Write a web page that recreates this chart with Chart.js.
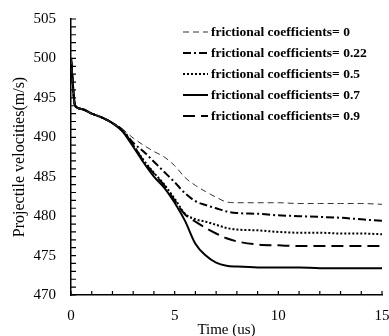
<!DOCTYPE html>
<html>
<head>
<meta charset="utf-8">
<script src="https://cdn.jsdelivr.net/npm/chart.js@4.4.1/dist/chart.umd.min.js"></script>
<style>
  html, body { margin: 0; padding: 0; background: #fff; }
  #wrap { width: 389px; height: 336px; }
</style>
</head>
<body>
<div id="wrap"><canvas id="velChart" width="389" height="336"></canvas></div>
<script>
// time (us)
const times = [0, 0.2, 0.5, 1, 1.5, 2, 2.5, 3, 3.5, 4, 4.5, 5, 5.5, 6, 6.5, 7, 7.5, 8, 9, 10, 11, 12, 13, 14, 15];

// projectile velocity (m/s) per frictional coefficient
const mu0   = [500, 494, 493.6, 493.0, 492.5, 491.8, 491.0, 489.9, 489.0, 488.2, 487.5, 486.4, 484.9, 483.9, 483.1, 482.4, 481.8, 481.7, 481.7, 481.7, 481.6, 481.6, 481.6, 481.6, 481.5];
const mu022 = [500, 494, 493.6, 493.0, 492.5, 491.8, 490.9, 489.3, 488.2, 486.9, 485.6, 484.3, 482.9, 481.9, 481.4, 481.0, 480.6, 480.4, 480.3, 480.1, 480.0, 479.9, 479.8, 479.6, 479.4];
const mu05  = [500, 494, 493.6, 493.0, 492.5, 491.8, 490.8, 489.0, 487.1, 485.5, 484.0, 482.2, 480.3, 479.6, 479.3, 478.9, 478.5, 478.3, 478.2, 478.0, 477.9, 477.9, 477.8, 477.8, 477.7];
const mu07  = [500, 494, 493.6, 493.0, 492.5, 491.8, 490.7, 488.8, 486.8, 485.0, 483.6, 481.7, 479.4, 476.5, 475.0, 474.1, 473.7, 473.6, 473.5, 473.5, 473.5, 473.4, 473.4, 473.4, 473.4];
const mu09  = [500, 494, 493.6, 493.0, 492.5, 491.8, 490.8, 489.0, 487.0, 485.4, 483.9, 482.0, 480.2, 479.3, 478.5, 477.8, 477.2, 476.8, 476.4, 476.3, 476.2, 476.2, 476.2, 476.2, 476.2];

const legendLabels = ["frictional coefficients= 0", "frictional coefficients= 0.22", "frictional coefficients= 0.5", "frictional coefficients= 0.7", "frictional coefficients= 0.9"];

const serif = "'Liberation Serif', 'DejaVu Serif', serif";

function pts(vals) {
    return times.map((t, i) => ({ x: t, y: vals[i] }));
}

function makeSet(label, vals, dash, width, color) {
    return {
        label: label,
        data: pts(vals),
        borderColor: color,
        borderWidth: width,
        borderDash: dash,
        pointRadius: 0,
        fill: false,
        cubicInterpolationMode: 'monotone'
    };
}

// little ticks pointing into the plot, plus the legend box
const innerTicks = {
    id: 'innerTicks',
    afterDraw(chart) {
        const ctx = chart.ctx;
        const xs = chart.scales.x;
        const ys = chart.scales.y;
        const area = chart.chartArea;
        ctx.save();
        ctx.strokeStyle = '#000';
        ctx.lineWidth = 1.2;
        ctx.beginPath();
        xs.ticks.forEach(t => {
            const px = xs.getPixelForValue(t.value);
            ctx.moveTo(px, area.bottom);
            ctx.lineTo(px, area.bottom - 4);
        });
        ys.ticks.forEach(t => {
            const py = ys.getPixelForValue(t.value);
            ctx.moveTo(area.left, py);
            ctx.lineTo(area.left + 5, py);
        });
        ctx.stroke();

        // legend
        ctx.font = "bold 13.5px " + serif;
        ctx.textBaseline = 'middle';
        ctx.fillStyle = '#000';
        chart.data.datasets.forEach((ds, i) => {
            const y = area.top + 13 + i * 21;
            ctx.beginPath();
            ctx.setLineDash(ds.borderDash);
            ctx.lineWidth = ds.borderWidth;
            ctx.strokeStyle = ds.borderColor;
            ctx.moveTo(183, y);
            ctx.lineTo(208, y);
            ctx.stroke();
            ctx.setLineDash([]);
            ctx.fillText(legendLabels[i], 211, y + 1);
        });
        ctx.restore();
    }
};

new Chart(document.getElementById("velChart"), {
    type: 'line',
    data: {
        datasets: [
            makeSet(legendLabels[0], mu0, [6, 4], 1, '#333'),
            makeSet(legendLabels[1], mu022, [8, 3, 2, 3], 2, '#000'),
            makeSet(legendLabels[2], mu05, [2, 2], 2, '#000'),
            makeSet(legendLabels[3], mu07, [], 2, '#000'),
            makeSet(legendLabels[4], mu09, [12, 6], 2, '#000')
        ]
    },
    options: {
        responsive: false,
        animation: false,
        layout: { padding: { top: 19, right: 0, left: 10, bottom: 0 } },
        plugins: {
            legend: { display: false },
            tooltip: { enabled: false }
        },
        scales: {
            x: {
                type: 'linear',
                min: 0,
                max: 15,
                grid: { display: false },
                border: { display: true, color: '#000', width: 1.5 },
                ticks: {
                    stepSize: 1,
                    autoSkip: false,
                    maxRotation: 0,
                    padding: 4,
                    color: '#000',
                    font: { family: serif, size: 15 },
                    callback: v => (v % 5 === 0 ? v : '')
                },
                title: {
                    display: true,
                    text: 'Time (us)',
                    color: '#000',
                    font: { family: serif, size: 15 },
                    padding: { top: 0, bottom: -3 }
                },
                afterFit: s => {
                    s.height = 41;
                    s.paddingRight = 7;
                    s.paddingLeft = 0;
                }
            },
            y: {
                min: 470,
                max: 505,
                grid: { display: false },
                border: { display: true, color: '#000', width: 1.5 },
                ticks: {
                    stepSize: 1,
                    autoSkip: false,
                    padding: 7,
                    color: '#000',
                    font: { family: serif, size: 15 },
                    callback: v => (v % 5 === 0 ? v : '')
                },
                title: {
                    display: true,
                    text: 'Projectile velocities(m/s)',
                    color: '#000',
                    font: { family: serif, size: 16 },
                    padding: { top: 0, bottom: 4 }
                },
                afterFit: s => { s.width = 61; }
            }
        }
    },
    plugins: [innerTicks]
});
</script>
</body>
</html>
